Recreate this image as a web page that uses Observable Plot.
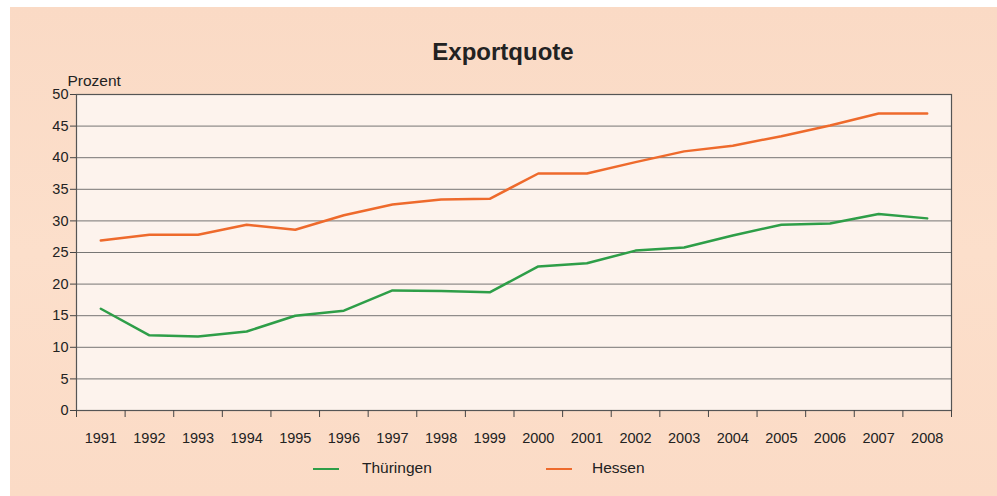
<!DOCTYPE html>
<html>
<head>
<meta charset="utf-8">
<script src="https://cdn.jsdelivr.net/npm/d3@7"></script>
<script src="https://cdn.jsdelivr.net/npm/@observablehq/plot@0.6"></script>
<style>
  html, body { margin: 0; padding: 0; background: #ffffff; }
  #wrap { position: relative; width: 997px; height: 496px; overflow: hidden; font-family: "Liberation Sans", Arial, sans-serif; }
  #panel { position: absolute; left: 10px; top: 7px; right: 0; bottom: 0; background: linear-gradient(180deg, #fadac5 0%, #fcdfcb 50%, #fbdbc6 100%); }
  #title { position: absolute; left: 0; width: 1006px; top: 38px; text-align: center; font-weight: bold; font-size: 24px; color: #222; }
  #chart { position: absolute; left: 0; top: 0; }
  #legend { position: absolute; top: 459px; left: 0; font-size: 15.5px; color: #222; }
  .item { position: absolute; white-space: nowrap; }
  .sw { position: absolute; width: 26px; height: 2.2px; top: 9px; }
</style>
</head>
<body>
<div id="wrap">
  <div id="panel"></div>
  <div id="chart"></div>
  <div id="title">Exportquote</div>
  <div id="legend"></div>
</div>
<script>
const years = [1991,1992,1993,1994,1995,1996,1997,1998,1999,2000,2001,2002,2003,2004,2005,2006,2007,2008];
const thueringen = [16.1,11.9,11.7,12.5,15.0,15.8,19.0,18.9,18.7,22.8,23.3,25.3,25.8,27.7,29.4,29.6,31.1,30.4];
const hessen = [26.9,27.8,27.8,29.4,28.6,30.9,32.6,33.4,33.5,37.5,37.5,39.3,41.0,41.9,43.4,45.1,47.0,47.0];
const seriesNames = ["Thüringen", "Hessen"];
const seriesColors = ["#2e9e48", "#ee6a2c"];
const yTicks = [0,5,10,15,20,25,30,35,40,45,50];

const data = [];
years.forEach((yr, i) => {
  data.push({year: yr, value: thueringen[i], series: seriesNames[0]});
  data.push({year: yr, value: hessen[i], series: seriesNames[1]});
});
const boundaries = years.map(y => y - 0.5).concat([years[years.length - 1] + 0.5]);

const plot = Plot.plot({
  width: 997,
  height: 496,
  marginLeft: 76,
  marginRight: 46,
  marginTop: 94,
  marginBottom: 86,
  style: {background: "transparent", fontFamily: "Liberation Sans, Arial, sans-serif", fontSize: "14.5px", color: "#222"},
  x: {type: "linear", domain: [boundaries[0], boundaries[boundaries.length - 1]]},
  y: {domain: [0, 50]},
  color: {domain: seriesNames, range: seriesColors},
  marks: [
    Plot.frame({fill: "#fdf3ed", stroke: null}),
    Plot.gridY(yTicks, {stroke: "#5f5f5f", strokeOpacity: 0.85, strokeWidth: 1}),
    Plot.frame({stroke: "#555", strokeWidth: 1.2}),
    Plot.axisY({ticks: yTicks, tickSize: 6, tickPadding: 2, label: null, stroke: "#444", fontSize: 14.5}),
    Plot.axisX({ticks: boundaries, tickSize: 7, tickFormat: () => "", label: null, stroke: "#444"}),
    Plot.axisX({ticks: years, tickSize: 0, tickPadding: 22, tickFormat: d => String(d), label: null, fontSize: 14.5}),
    Plot.line(data, {x: "year", y: "value", z: "series", stroke: "series", strokeWidth: 2.5, curve: "linear"}),
    Plot.text(["Prozent"], {frameAnchor: "top-left", dx: -9, dy: -20, text: d => d, textAnchor: "start", fontSize: 15.5, fill: "#222"})
  ]
});
document.getElementById("chart").appendChild(plot);

const legend = document.getElementById("legend");
const pos = [{sw: 313, tx: 362}, {sw: 546, tx: 592}];
seriesNames.forEach((name, i) => {
  const s = document.createElement("div");
  s.className = "sw";
  s.style.left = pos[i].sw + "px";
  s.style.background = seriesColors[i];
  legend.appendChild(s);
  const t = document.createElement("div");
  t.className = "item";
  t.style.left = pos[i].tx + "px";
  t.textContent = name;
  legend.appendChild(t);
});
</script>
</body>
</html>
